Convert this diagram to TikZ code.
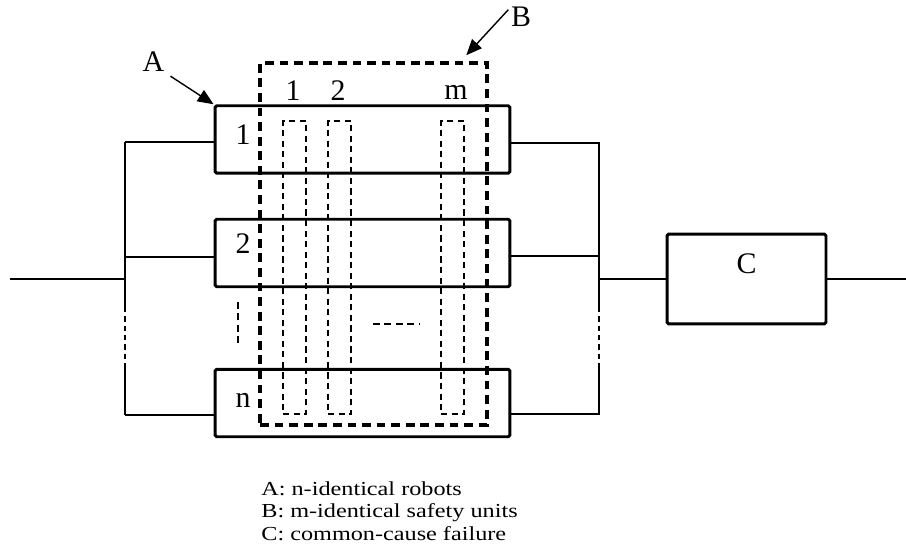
\documentclass[tikz,border=0pt]{standalone}
\usepackage{fontspec}
\setmainfont{Liberation Serif}
\newfontfamily\keyfont[FakeStretch=1.22]{Liberation Serif}
\usetikzlibrary{arrows.meta,positioning}

\begin{document}
\begin{tikzpicture}[
  x=0.02cm, y=-0.02cm,
  robot/.style={draw, line width=1.7pt, rounded corners=1pt, minimum width=5.9cm, minimum height=1.35cm, inner sep=0pt},
  cause/.style={draw, line width=1.7pt, rounded corners=1pt, minimum width=3.18cm, minimum height=1.8cm, inner sep=0pt},
  group/.style={draw, line width=1.8pt, dash pattern=on 5pt off 3.3pt, minimum width=4.54cm, minimum height=7.24cm, inner sep=0pt},
  unit/.style={draw, line width=0.75pt, dash pattern=on 3.5pt off 2.5pt, minimum width=0.46cm, minimum height=5.86cm, inner sep=0pt},
  wire/.style={line width=0.8pt},
  gapwire/.style={wire, dash pattern=on 3pt off 2.3pt},
  dots/.style={line width=0.8pt, dash pattern=on 4pt off 2.5pt},
  lbl/.style={font=\fontsize{17}{17}\selectfont, inner sep=0pt},
  arr/.style={-{Triangle[length=9pt,width=7.5pt]}, line width=0.8pt}
]
  \useasboundingbox (0,0) rectangle (906,557);

  % robots
  \node[robot] (r1) at (362.5,139.5) {};
  \node[robot] (r2) at (362.5,253) {};
  \node[robot] (rn) at (362.5,403) {};
  \node[lbl, anchor=base] (r1lbl) at (243,145) {1};
  \node[lbl, anchor=base] (r2lbl) at (243,254) {2};
  \node[lbl, anchor=base] (rnlbl) at (243,407) {n};

  % safety units
  \node[group] (grp) at (373.5,244) {};
  \node[unit] (s1) at (294.5,267.5) {};
  \node[unit] (s2) at (339.5,267.5) {};
  \node[unit] (sm) at (452.5,267.5) {};
  \node[lbl, anchor=base] (s1lbl) at (293,101) {1};
  \node[lbl, anchor=base] (s2lbl) at (338,101) {2};
  \node[lbl, anchor=base] (smlbl) at (456,100) {m};
  \draw[dots] (238,302) -- (238,347);
  \draw[dots] (373,324) -- (420,324);

  % common cause
  \node[cause] (cbox) at (746.5,279) {};
  \node[lbl, anchor=base] (clbl) at ([yshift=3.4pt]cbox.center) {C};

  % bus points
  \coordinate (in) at (10,279);
  \coordinate (lbus) at (125,279);
  \coordinate (l1) at (125,142);
  \coordinate (l2) at (125,257);
  \coordinate (ln) at (125,415);
  \coordinate (lg1) at (125,307);
  \coordinate (lg2) at (125,367);
  \coordinate (rbus) at (599,279);
  \coordinate (q1) at (599,143);
  \coordinate (q2) at (599,256);
  \coordinate (qn) at (599,414);
  \coordinate (qg1) at (599,307);
  \coordinate (qg2) at (599,368);
  \coordinate (out) at (906,279);

  \draw[wire] (in) -- (lbus);
  \draw[wire] (l1) -- (lg1);
  \draw[gapwire] (lg1) -- (lg2);
  \draw[wire] (lg2) -- (ln);
  \draw[wire] (l1) -- (r1.west |- l1);
  \draw[wire] (l2) -- (r2.west |- l2);
  \draw[wire] (ln) -- (rn.west |- ln);

  \draw[wire] (r1.east |- q1) -- (q1) -- (qg1);
  \draw[gapwire] (qg1) -- (qg2);
  \draw[wire] (qg2) -- (qn) -- (rn.east |- qn);
  \draw[wire] (r2.east |- q2) -- (q2);
  \draw[wire] (rbus) -- (cbox.west);
  \draw[wire] (cbox.east) -- (out);

  % pointers
  \node[lbl, anchor=base] (alabel) at (153.5,72) {A};
  \node[lbl, anchor=base] (blabel) at (521,27) {B};
  \draw[arr, shorten <=4pt] (alabel.south east) -- (r1.north west);
  \draw[arr, shorten <=2pt, shorten >=4.8pt] (blabel.north west) -- ([xshift=-0.56cm]grp.north east);

  % key
  \node[anchor=north west, align=left, inner sep=0pt, font=\keyfont\fontsize{11.3}{12.8}\selectfont] (key) at (261,481)
    {A: n-identical robots\\B: m-identical safety units\\C: common-cause failure};
\end{tikzpicture}
\end{document}
